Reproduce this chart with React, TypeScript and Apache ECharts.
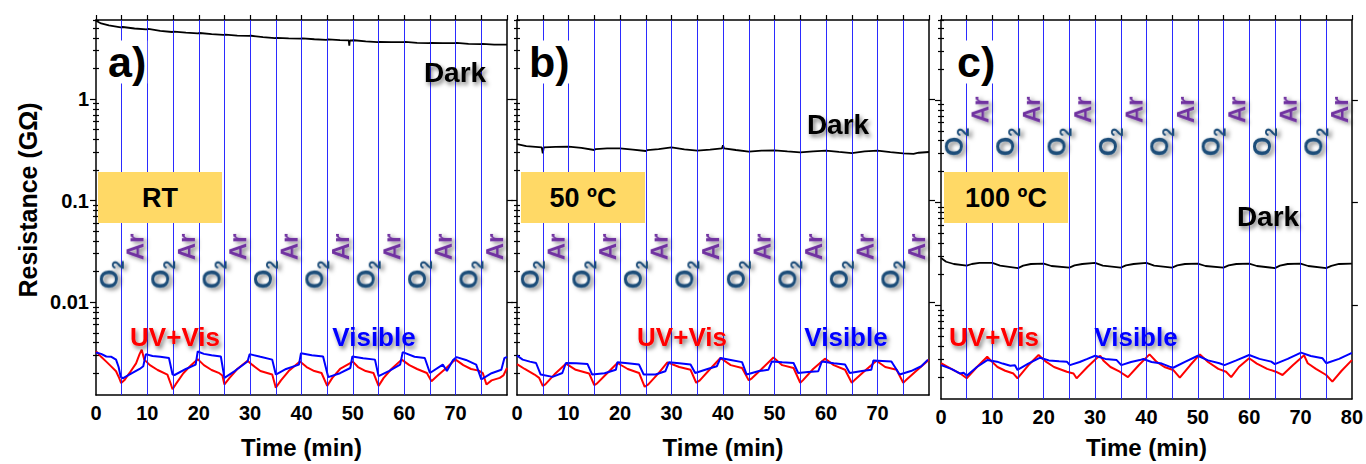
import { useEffect, useRef } from "react";
import * as echarts from "echarts";

// ---------------- data ----------------
const timeTickLabels = [0, 10, 20, 30, 40, 50, 60, 70, 80];
const switchTimes = [5, 10, 15, 20, 25, 30, 35, 40, 45, 50, 55, 60, 65, 70, 75];
const o2Times = [2.5, 12.5, 22.5, 32.5, 42.5, 52.5, 62.5, 72.5];
const arTimes = [7.5, 17.5, 27.5, 37.5, 47.5, 57.5, 67.5, 77.5];
const yMajorTicks = [0.01, 0.1, 1];
const yMinorTicks = [
  0.002, 0.003, 0.004, 0.005, 0.006, 0.007, 0.008, 0.009,
  0.02, 0.03, 0.04, 0.05, 0.06, 0.07, 0.08, 0.09,
  0.2, 0.3, 0.4, 0.5, 0.6, 0.7, 0.8, 0.9,
  2, 3, 4, 5, 6,
];
const Y_MIN = 0.00122;
const Y_MAX = 6;
const panelLetters = ["a)", "b)", "c)"];
const tempLabels = ["RT", "50 ºC", "100 ºC"];
const o2LabelR = [0.0187, 0.0187, 0.39];
const arLabelR = [0.035, 0.035, 0.8];

// panel a (RT)
const darkA: [number, number][] = [
  [0, 5.89], [1, 5.55], [2.5, 5.3], [4.8, 5.08], [5.2, 5.12], [7.5, 4.95], [9.8, 4.86], [10.2, 4.9],
  [12.5, 4.7], [14.8, 4.57], [15.2, 4.6], [17.5, 4.5], [19.8, 4.44], [20.2, 4.47], [22.5, 4.35],
  [24.8, 4.28], [25.2, 4.3], [27.5, 4.22], [29.8, 4.18], [30.2, 4.2], [32.5, 4.07], [34.8, 3.97],
  [35.2, 4.0], [37.5, 3.95], [39.8, 3.94], [40.2, 3.96], [42.5, 3.88], [44.8, 3.83], [45.2, 3.86],
  [47.5, 3.8], [49.2, 3.78], [49.3, 3.36], [49.4, 3.78], [49.8, 3.77], [50.2, 3.79], [52.5, 3.7],
  [54.8, 3.63], [55.2, 3.65], [57.5, 3.63], [59.8, 3.63], [60.2, 3.65], [62.5, 3.58], [64.8, 3.55],
  [65.2, 3.57], [67.5, 3.55], [69.8, 3.55], [70.2, 3.57], [72.5, 3.5], [74.8, 3.47], [75.2, 3.49],
  [77.5, 3.44], [80, 3.44],
];
const visibleA: [number, number][] = [
  [0, 0.0032], [1, 0.0031], [2, 0.00292], [3, 0.0029], [3.9, 0.00272], [4.4, 0.0023], [4.8, 0.00185],
  [5.2, 0.00178], [7, 0.002], [8.5, 0.0022], [9.2, 0.00234], [9.7, 0.00308], [11, 0.00295],
  [12.5, 0.0029], [14.2, 0.00282], [14.9, 0.00194], [15.3, 0.00192], [17.5, 0.0022], [19.4, 0.00243],
  [19.8, 0.00327], [21, 0.0031], [22.5, 0.003], [24.3, 0.00292], [25, 0.0018], [27, 0.0021],
  [29.5, 0.00261], [29.9, 0.00308], [32, 0.0029], [34.3, 0.00272], [35, 0.00194], [37, 0.0022],
  [39.5, 0.00243], [39.9, 0.00315], [42, 0.003], [44.2, 0.00292], [45.2, 0.00183], [47.5, 0.002],
  [49.5, 0.00225], [49.9, 0.00292], [52, 0.0028], [54.3, 0.00272], [55, 0.00187], [57, 0.0021],
  [59.2, 0.00243], [59.7, 0.00322], [62, 0.0029], [64, 0.00282], [65, 0.00201], [67.5, 0.00243],
  [68.3, 0.0021], [69.5, 0.0027], [70.2, 0.00288], [72, 0.0027], [74, 0.00243], [75, 0.00174],
  [77, 0.002], [78.9, 0.00216], [79.5, 0.00282], [80, 0.0029],
];
const uvVisA: [number, number][] = [
  [0, 0.0033], [1, 0.0029], [2, 0.0026], [3, 0.00232], [3.9, 0.00209], [4.5, 0.0018], [4.9, 0.0016],
  [5.5, 0.0017], [6.5, 0.002], [7.8, 0.0025], [8.5, 0.0031], [8.9, 0.0034], [9.4, 0.00272],
  [10.5, 0.0024], [12, 0.00215], [13.9, 0.00194], [14.5, 0.0016], [14.9, 0.00139], [15.5, 0.00155],
  [17, 0.002], [18.5, 0.0024], [19.8, 0.00275], [21, 0.0024], [22.5, 0.00215], [24, 0.002],
  [24.6, 0.0019], [25, 0.00155], [26, 0.0018], [27.5, 0.0022], [29.5, 0.00265], [30.5, 0.0024],
  [32, 0.0021], [34.3, 0.00194], [35, 0.00144], [36, 0.0017], [37.5, 0.0021], [39.7, 0.00261],
  [41, 0.0023], [42.5, 0.0021], [43.9, 0.00201], [45, 0.0015], [46, 0.0018], [47.5, 0.0022],
  [50, 0.0026], [51, 0.0023], [52.5, 0.0021], [54, 0.00201], [55, 0.0015], [56, 0.0018],
  [57.5, 0.0022], [59.5, 0.00272], [61, 0.0024], [62.5, 0.0022], [64.4, 0.00201], [65.3, 0.00167],
  [66.5, 0.0019], [68.2, 0.00225], [69.5, 0.00261], [70, 0.00272], [71.5, 0.0024], [73, 0.0022],
  [74.5, 0.00212], [75.3, 0.002], [76, 0.00155], [77, 0.0017], [78.6, 0.0018], [79.3, 0.0019],
  [80, 0.00225],
];

// panel b (50 ºC)
const darkB: [number, number][] = [
  [0, 0.36], [1.8, 0.344], [4.8, 0.334], [5, 0.292], [5.2, 0.334], [7.5, 0.338], [10, 0.34],
  [12.5, 0.33], [15, 0.315], [15.3, 0.322], [17.5, 0.327], [20, 0.327], [22.5, 0.318], [25, 0.308],
  [25.3, 0.314], [27.5, 0.322], [30, 0.334], [32.5, 0.32], [35, 0.311], [37.5, 0.318], [39.8, 0.327],
  [40, 0.35], [40.2, 0.327], [42.5, 0.315], [45, 0.304], [47.5, 0.31], [50, 0.313], [52.5, 0.305],
  [55, 0.299], [57.5, 0.306], [60, 0.311], [62.5, 0.302], [65, 0.294], [67.5, 0.305], [70, 0.311],
  [72.5, 0.3], [75, 0.292], [77, 0.288], [78, 0.296], [80, 0.301],
];
const visibleB: [number, number][] = [
  [0, 0.00299], [1.1, 0.00272], [2.5, 0.0026], [3.7, 0.00252], [4.6, 0.00194], [6.9, 0.00184],
  [8.8, 0.00201], [9.5, 0.00252], [11.5, 0.0025], [13.7, 0.00246], [14.6, 0.00194], [17, 0.002],
  [19.2, 0.00216], [19.5, 0.00256], [21.5, 0.0025], [23.7, 0.00243], [24.6, 0.00194], [26.9, 0.00194],
  [28.8, 0.00209], [29.5, 0.00256], [31.5, 0.0025], [33.7, 0.00243], [34.6, 0.00201], [37, 0.0022],
  [38.8, 0.00234], [39.5, 0.00282], [41.5, 0.0027], [43.7, 0.00257], [44.6, 0.00194], [47, 0.0021],
  [48.8, 0.00216], [49.5, 0.00261], [51.5, 0.00256], [53.7, 0.00252], [54.6, 0.00201], [56.5, 0.00205],
  [58.5, 0.00209], [59.2, 0.00261], [61.5, 0.0025], [63.7, 0.00243], [64.6, 0.00201], [67, 0.0021],
  [68.8, 0.00216], [69.2, 0.00267], [72.7, 0.00261], [74.3, 0.00194], [76.5, 0.0021], [78.5, 0.00234],
  [79.8, 0.00272],
];
const uvVisB: [number, number][] = [
  [0, 0.00246], [1.5, 0.0022], [3.4, 0.00194], [4.3, 0.0018], [5, 0.0015], [5.5, 0.00155], [7.5, 0.002],
  [9.5, 0.00248], [11.4, 0.00216], [14, 0.00199], [15, 0.00153], [15.5, 0.00158], [17.5, 0.002],
  [19.5, 0.00252], [21.5, 0.0022], [23.7, 0.00201], [24.8, 0.00147], [25.5, 0.00155], [27.5, 0.002],
  [29.2, 0.00256], [31.5, 0.0023], [33.7, 0.00216], [34.8, 0.00161], [35.5, 0.0017], [37.5, 0.0022],
  [39.5, 0.00282], [41.5, 0.0024], [43.7, 0.00225], [45, 0.0017], [45.6, 0.00178], [47.5, 0.0022],
  [49.8, 0.00286], [51.5, 0.0024], [53.7, 0.00225], [55, 0.00161], [55.5, 0.0017], [57.5, 0.0022],
  [59.8, 0.00278], [61.5, 0.0024], [63.7, 0.00216], [65, 0.00161], [65.5, 0.0017], [67.5, 0.0021],
  [69.8, 0.00265], [71.5, 0.0023], [73.7, 0.00216], [75, 0.00161], [75.5, 0.0017], [77.5, 0.0021],
  [80, 0.00272],
];

// panel c (100 ºC)
const darkC: [number, number][] = [
  [0, 0.0288], [1, 0.0265], [2.5, 0.0252], [5, 0.0243], [6, 0.0252], [7.5, 0.0258], [10, 0.0258],
  [11.5, 0.0243], [15, 0.023], [16, 0.0243], [17.5, 0.0252], [20, 0.0254], [21.5, 0.0241],
  [25, 0.0232], [26, 0.0244], [27.5, 0.0252], [30, 0.0258], [31.5, 0.0243], [35, 0.0232],
  [36, 0.0244], [37.5, 0.0252], [40, 0.0258], [41.5, 0.0243], [45, 0.0232], [46, 0.0244],
  [47.5, 0.0252], [50, 0.0254], [51.5, 0.0241], [55, 0.0232], [56, 0.0244], [57.5, 0.0252],
  [60, 0.0254], [61.5, 0.0241], [65, 0.023], [66, 0.0243], [67.5, 0.0252], [70, 0.0254],
  [71.5, 0.0241], [75, 0.023], [76, 0.0242], [77.5, 0.0252], [80, 0.0254],
];
const visibleC: [number, number][] = [
  [0, 0.00261], [2, 0.0024], [3.75, 0.00216], [4.4, 0.0022], [5, 0.00206], [7, 0.0025], [9, 0.00292],
  [10.9, 0.00282], [12, 0.0027], [13.5, 0.00257], [14.4, 0.0026], [14.9, 0.00234], [17, 0.0027],
  [19.3, 0.00308], [21, 0.0029], [23, 0.00285], [24.5, 0.00282], [25.1, 0.00261], [27, 0.0028],
  [28.5, 0.003], [30, 0.00322], [32, 0.003], [34.2, 0.00292], [35.1, 0.00261], [37, 0.0028],
  [38.7, 0.00292], [39.4, 0.00299], [41, 0.0028], [43, 0.0027], [44.5, 0.00252], [45.2, 0.00246],
  [47.5, 0.0028], [50, 0.00322], [52, 0.0029], [54.2, 0.00272], [55.2, 0.00261], [57.5, 0.0029],
  [60, 0.00327], [62, 0.003], [64.3, 0.00282], [65, 0.00267], [67.5, 0.003], [70.1, 0.00345],
  [72, 0.0032], [74.3, 0.00304], [75, 0.00272], [77.5, 0.003], [79.8, 0.0034], [80, 0.0034],
];
const uvVisC: [number, number][] = [
  [0, 0.00272], [2, 0.0024], [3.75, 0.00216], [5, 0.00194], [7, 0.0025], [9, 0.00315], [9.9, 0.00282],
  [11, 0.0025], [12.5, 0.0023], [14.1, 0.00216], [14.9, 0.00194], [17, 0.0026], [19, 0.00327],
  [20.5, 0.0028], [22, 0.0025], [24.5, 0.00225], [25.8, 0.00216], [26.4, 0.00194], [28.5, 0.0025],
  [30.3, 0.00304], [31, 0.00322], [31.6, 0.0029], [33, 0.0025], [34.8, 0.00225], [36.4, 0.00199],
  [38.5, 0.0026], [40.6, 0.00332], [42, 0.0028], [43.5, 0.0025], [45.2, 0.00234], [46.5, 0.00197],
  [48.5, 0.0026], [50.4, 0.00332], [52, 0.0028], [54, 0.0024], [55.5, 0.00225], [56.5, 0.00199],
  [58, 0.0025], [60, 0.00304], [61.5, 0.0027], [63.5, 0.0024], [65.2, 0.00225], [66.5, 0.00209],
  [68.5, 0.0026], [70.7, 0.00325], [71.4, 0.00272], [73, 0.0024], [75, 0.00209], [76.2, 0.0018],
  [78, 0.0023], [80, 0.00292],
];

const darkSets = [darkA, darkB, darkC];
const visibleSets = [visibleA, visibleB, visibleC];
const uvVisSets = [uvVisA, uvVisB, uvVisC];

// ---------------- styling ----------------
const FONT = '"Liberation Sans", Arial, sans-serif';
const O2_COLOR = "#1F4E79";
const AR_COLOR = "#7030A0";
const BOX_COLOR = "#FFD966";
const SHADOW = {
  textShadowColor: "rgba(0,0,0,0.5)",
  textShadowBlur: 4,
  textShadowOffsetX: 2,
  textShadowOffsetY: 3,
};
const ROT_SHADOW = {
  textShadowColor: "rgba(0,0,0,0.5)",
  textShadowBlur: 4,
  textShadowOffsetX: -2,
  textShadowOffsetY: 3,
};

export default function App() {
  const ref = useRef<HTMLDivElement>(null);

  useEffect(() => {
    const el = ref.current;
    if (!el) return;
    const chart = echarts.init(el, null, { renderer: "svg" });

    const grids = [
      { left: 96, top: 20, width: 411, height: 379 },
      { left: 517, top: 20, width: 412, height: 379 },
      { left: 941, top: 20, width: 411, height: 379 },
    ];
    const axisLine = { show: true, onZero: false, lineStyle: { color: "#000", width: 1.5 } };
    const tickStyle = { color: "#000", width: 1.2 };
    const labelFmt = (v: number) => (v >= 1 ? String(Math.round(v)) : String(v));

    const xAxis: any[] = [];
    const yAxis: any[] = [];
    const series: any[] = [];

    grids.forEach((_, i) => {
      xAxis.push({
        gridIndex: i,
        type: "value",
        position: "bottom",
        min: 0,
        max: 80,
        interval: 10,
        axisLine,
        axisTick: { show: false },
        splitLine: { show: false },
        axisLabel: {
          color: "#000",
          fontFamily: FONT,
          fontWeight: "bold",
          fontSize: 20,
          margin: 8,
          showMaxLabel: i === 2,
          showMinLabel: true,
          formatter: (v: number) => (timeTickLabels.includes(v) ? String(v) : ""),
        },
        name: "Time (min)",
        nameLocation: "middle",
        nameGap: i === 2 ? 36 : 40,
        nameTextStyle: { color: "#000", fontFamily: FONT, fontWeight: "bold", fontSize: 24 },
      });
      xAxis.push({
        gridIndex: i,
        type: "value",
        position: "top",
        min: 0,
        max: 80,
        interval: 5,
        axisLine,
        axisTick: { show: true, inside: false, length: 5, lineStyle: tickStyle },
        axisLabel: { show: false },
        splitLine: { show: false },
      });
      (["left", "right"] as const).forEach((pos) => {
        yAxis.push({
          gridIndex: i,
          type: "log",
          logBase: 10,
          min: Y_MIN,
          max: Y_MAX,
          position: pos,
          axisLine,
          axisTick: { show: true, inside: false, length: 6, customValues: yMajorTicks, lineStyle: tickStyle },
          axisLabel: {
            show: i === 0 && pos === "left",
            customValues: yMajorTicks,
            formatter: labelFmt,
            color: "#000",
            fontFamily: FONT,
            fontWeight: "bold",
            fontSize: 20,
            margin: 7,
          },
          splitLine: { show: false },
          minorTick: { show: false },
        });
        yAxis.push({
          gridIndex: i,
          type: "log",
          logBase: 10,
          min: Y_MIN,
          max: Y_MAX,
          position: pos,
          axisLine: { show: false },
          axisTick: { show: true, inside: false, length: 3, customValues: yMinorTicks, lineStyle: tickStyle },
          axisLabel: { show: false },
          splitLine: { show: false },
          minorTick: { show: false },
        });
      });

      const xi = 2 * i;
      const yi = 4 * i;
      series.push({
        type: "line",
        name: "gas switch",
        xAxisIndex: xi,
        yAxisIndex: yi,
        data: [],
        z: 1,
        silent: true,
        markLine: {
          silent: true,
          symbol: ["none", "none"],
          label: { show: false },
          lineStyle: { color: "#1414ff", width: 1, type: "solid", opacity: 0.9 },
          data: switchTimes.map((t) => ({ xAxis: t })),
          animation: false,
        },
      });
      series.push({
        type: "line",
        name: "Dark",
        xAxisIndex: xi,
        yAxisIndex: yi,
        data: darkSets[i],
        showSymbol: false,
        lineStyle: { color: "#000", width: 1.8 },
        z: 3,
      });
      series.push({
        type: "line",
        name: "UV+Vis",
        xAxisIndex: xi,
        yAxisIndex: yi,
        data: uvVisSets[i],
        showSymbol: false,
        lineStyle: { color: "#ff0000", width: 2 },
        z: 3,
      });
      series.push({
        type: "line",
        name: "Visible",
        xAxisIndex: xi,
        yAxisIndex: yi,
        data: visibleSets[i],
        showSymbol: false,
        lineStyle: { color: "#0000ff", width: 2 },
        z: 4,
      });
    });

    chart.setOption({
      animation: false,
      backgroundColor: "#ffffff",
      grid: grids.map((g) => ({ ...g, containLabel: false })),
      xAxis,
      yAxis,
      series,
    });

    // ---- annotations ----
    const boxX = [98, 521, 944];
    const letterX = [107, 528, 956];
    const darkPos = [
      [455, 72],
      [838, 124],
      [1268, 216],
    ];
    const uvPos = [175, 682, 994];
    const visPos = [374, 846, 1136];

    const graphic: any[] = [];
    graphic.push({
      type: "text",
      x: 28,
      y: 200,
      rotation: Math.PI / 2,
      z: 50,
      style: {
        text: "Resistance (GΩ)",
        fontFamily: FONT,
        fontWeight: "bold",
        fontSize: 25,
        fill: "#000",
        align: "center",
        verticalAlign: "middle",
      },
    });

    grids.forEach((_, i) => {
      graphic.push({
        type: "text",
        x: letterX[i],
        y: 62,
        z: 50,
        style: {
          text: panelLetters[i],
          fontFamily: FONT,
          fontWeight: "bold",
          fontSize: 43,
          fill: "#000",
          align: "left",
          verticalAlign: "middle",
          backgroundColor: "#fff",
          padding: [0, 1, 0, 1],
        },
      });
      graphic.push({
        type: "text",
        x: darkPos[i][0],
        y: darkPos[i][1],
        z: 50,
        style: {
          text: "Dark",
          fontFamily: FONT,
          fontWeight: "bold",
          fontSize: 28,
          fill: "#000",
          align: "center",
          verticalAlign: "middle",
          ...SHADOW,
        },
      });
      graphic.push({
        type: "rect",
        z: 50,
        shape: { x: boxX[i], y: 172, width: 124, height: 51 },
        style: { fill: BOX_COLOR },
      });
      graphic.push({
        type: "text",
        x: boxX[i] + 62,
        y: 198,
        z: 51,
        style: {
          text: tempLabels[i],
          fontFamily: FONT,
          fontWeight: "bold",
          fontSize: 27,
          fill: "#000",
          align: "center",
          verticalAlign: "middle",
        },
      });
      graphic.push({
        type: "text",
        x: uvPos[i],
        y: 337,
        z: 50,
        style: {
          text: "UV+Vis",
          fontFamily: FONT,
          fontWeight: "bold",
          fontSize: 26,
          fill: "#ff0000",
          align: "center",
          verticalAlign: "middle",
          ...SHADOW,
        },
      });
      graphic.push({
        type: "text",
        x: visPos[i],
        y: 337,
        z: 50,
        style: {
          text: "Visible",
          fontFamily: FONT,
          fontWeight: "bold",
          fontSize: 26,
          fill: "#0000ff",
          align: "center",
          verticalAlign: "middle",
          ...SHADOW,
        },
      });

      const finder = { xAxisIndex: 2 * i, yAxisIndex: 4 * i };
      o2Times.forEach((t) => {
        const p = chart.convertToPixel(finder, [t, o2LabelR[i]]) as number[];
        graphic.push({
          type: "text",
          x: p[0],
          y: p[1],
          rotation: Math.PI / 2,
          z: 50,
          style: {
            text: "{o|O}{s|2}",
            align: "center",
            verticalAlign: "middle",
            ...ROT_SHADOW,
            rich: {
              o: { fontFamily: FONT, fontWeight: "bold", fontSize: 25, fill: O2_COLOR, ...ROT_SHADOW },
              s: {
                fontFamily: FONT,
                fontWeight: "bold",
                fontSize: 16,
                fill: O2_COLOR,
                padding: [18, 0, 0, 0],
                ...ROT_SHADOW,
              },
            },
          },
        });
      });
      arTimes.forEach((t) => {
        const p = chart.convertToPixel(finder, [t, arLabelR[i]]) as number[];
        graphic.push({
          type: "text",
          x: p[0],
          y: p[1],
          rotation: Math.PI / 2,
          z: 50,
          style: {
            text: "Ar",
            fontFamily: FONT,
            fontWeight: "bold",
            fontSize: 24,
            fill: AR_COLOR,
            align: "center",
            verticalAlign: "middle",
            ...ROT_SHADOW,
          },
        });
      });
    });

    chart.setOption({ graphic });

    return () => {
      chart.dispose();
    };
  }, []);

  return (
    <div
      ref={ref}
      style={{ position: "absolute", left: 0, top: 0, width: 1366, height: 464, background: "#fff" }}
    />
  );
}
